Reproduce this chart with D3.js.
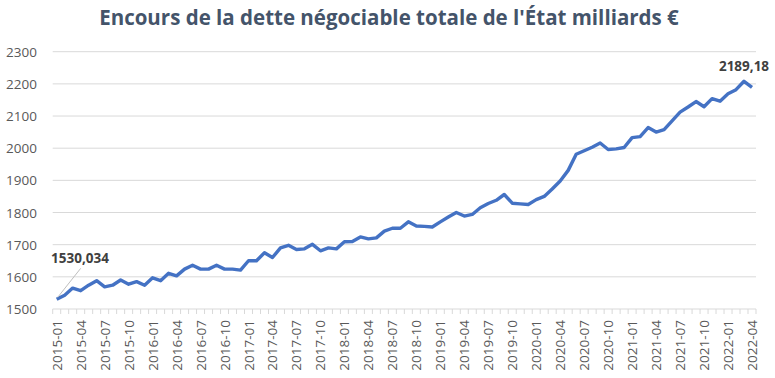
<!DOCTYPE html>
<html><head><meta charset="utf-8">
<script src="https://cdn.jsdelivr.net/npm/d3@7/dist/d3.min.js"></script>
<style>body{margin:0;background:#fff;}svg{display:block;}</style>
</head><body>
<svg id="c" width="775" height="378"></svg>
<script>
const title = "Encours de la dette négociable totale de l'État milliards €";
const startYear = 2015, startMonth = 1;
const values = [
 1530.034,1543,1565,1557,1574,1588,1569,1574,1590,1577,1585,1574,
 1597,1588,1611,1603,1624,1636,1624,1624,1636,1624,1624,1621,
 1650,1650,1675,1660,1690,1698,1685,1687,1701,1681,1690,1687,
 1709,1710,1724,1718,1721,1742,1751,1751,1771,1758,1757,1755,
 1771,1786,1800,1789,1794,1815,1828,1838,1856,1829,1827,1825,
 1840,1850,1873,1898,1931,1981,1992,2003,2016,1996,1998,2002,
 2033,2036,2064,2050,2058,2085,2112,2128,2145,2129,2154,2146,
 2169,2182,2208,2189.18
];
const yTicks = [1500,1600,1700,1800,1900,2000,2100,2200,2300];
const firstLabel = "1530,034", lastLabel = "2189,18";

const categories = values.map((v,i)=>{
  const m = startMonth - 1 + i;
  const y = startYear + Math.floor(m/12);
  return y + "-" + String(m%12+1).padStart(2,"0");
});
const tickLabels = categories.filter((c,i)=>i%3===0);

const svg = d3.select("#c");
const L = 52.7, R = 756, T = 51.7, B = 309;
const x = d3.scalePoint().domain(categories).range([L,R]).padding(0.5);
const y = d3.scaleLinear().domain([1500,2300]).range([B,T]);

svg.append("text").attr("x",389).attr("y",25).attr("text-anchor","middle")
  .attr("font-family","'Open Sans',sans-serif").attr("font-weight","bold")
  .attr("font-size",20.5).attr("fill","#44546A").text(title);

// gridlines
svg.append("g").selectAll("line").data(yTicks.slice(1)).join("line")
  .attr("x1",L).attr("x2",R).attr("y1",d=>y(d)).attr("y2",d=>y(d))
  .attr("stroke","#d9d9d9").attr("stroke-width",1);
// y labels
svg.append("g").selectAll("text").data(yTicks).join("text")
  .attr("x",37).attr("y",d=>y(d)+5).attr("text-anchor","end")
  .attr("font-family","'Open Sans',sans-serif").attr("font-size",13.5).attr("fill","#595959")
  .text(d=>d);
// x axis line and ticks
svg.append("line").attr("x1",L).attr("x2",R).attr("y1",B).attr("y2",B).attr("stroke","#d9d9d9");
const step = x.step();
svg.append("g").selectAll("line").data(d3.range(categories.length+1)).join("line")
  .attr("x1",d=>L+d*step).attr("x2",d=>L+d*step).attr("y1",B).attr("y2",B+5)
  .attr("stroke","#d9d9d9");
// x labels
svg.append("g").selectAll("text").data(tickLabels).join("text")
  .attr("transform",d=>`translate(${x(d)+5},${B+11}) rotate(-90)`)
  .attr("text-anchor","end")
  .attr("font-family","'Open Sans',sans-serif").attr("font-size",13.5).attr("fill","#595959")
  .text(d=>d);

// line
svg.append("path").datum(values)
  .attr("d",d3.line().x((d,i)=>x(categories[i])).y(d=>y(d)))
  .attr("fill","none").attr("stroke","#4472C4").attr("stroke-width",3.4).attr("stroke-linejoin","round");

// annotations
const x0 = x(categories[0]), y0 = y(values[0]);
svg.append("line").attr("x1",x0+1).attr("y1",y0-2).attr("x2",x0+24).attr("y2",y0-31)
  .attr("stroke","#bfbfbf").attr("stroke-width",1);
svg.append("text").attr("x",51).attr("y",263)
  .attr("font-family","'Open Sans',sans-serif").attr("font-weight","bold").attr("font-size",13.5)
  .attr("fill","#404040").text(firstLabel);
const xn = x(categories[categories.length-1]);
svg.append("text").attr("x",xn-8).attr("y",71).attr("text-anchor","middle")
  .attr("font-family","'Open Sans',sans-serif").attr("font-weight","bold").attr("font-size",13.5)
  .attr("fill","#404040").text(lastLabel);
</script>
</body></html>
